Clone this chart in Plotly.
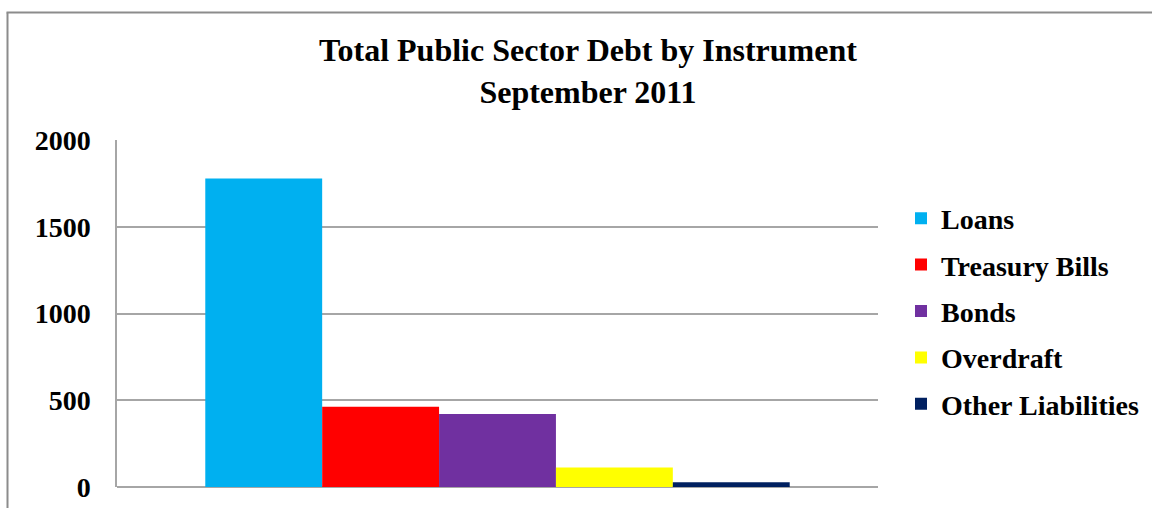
import plotly.graph_objects as go

series = ["Loans", "Treasury Bills", "Bonds", "Overdraft", "Other Liabilities"]
values = [1778, 463, 421, 113, 27]
colors = ["#00B0F0", "#FF0000", "#7030A0", "#FFFF00", "#002060"]
category = [""]

FONT = "Liberation Serif, Times New Roman, serif"

fig = go.Figure()
for name, v, c in zip(series, values, colors):
    fig.add_trace(go.Bar(
        x=category, y=[v], name=name, legendgroup=name,
        marker=dict(color=c, line=dict(width=0)),
    ))

W, H = 1152, 508
L, R, T, B = 117, 878, 140, 487

def px(x):
    return (x - L) / (R - L)

def py(y):
    return (B - y) / (B - T)

fig.update_layout(
    width=W, height=H,
    margin=dict(l=L, r=W - R, t=T, b=H - B, autoexpand=False),
    paper_bgcolor="white", plot_bgcolor="white",
    barmode="group", bargap=0.232, bargroupgap=0,
    title=dict(
        text="<b>Total Public Sector Debt by Instrument<br>September 2011</b>",
        x=(588) / W, xanchor="center", y=1 - 61 / H, yanchor="middle",
        font=dict(family=FONT, size=32, color="black"),
    ),
    font=dict(family=FONT, size=28, color="black"),
    legend=dict(
        x=px(901), xanchor="left", y=py(311), yanchor="middle",
        font=dict(family=FONT, size=28, color="black", weight="bold"),
        tracegroupgap=7, bgcolor="rgba(0,0,0,0)",
    ),
    xaxis=dict(showticklabels=False, showgrid=False, zeroline=False,
               showline=False, ticks="", automargin=False),
    yaxis=dict(range=[0, 2000], tickvals=[0, 500, 1000, 1500, 2000],
               showgrid=True, gridcolor="#A6A6A6", gridwidth=1.5,
               zeroline=True, zerolinecolor="#A6A6A6", zerolinewidth=1.5,
               showline=True, linecolor="#A6A6A6", linewidth=1.5,
               ticks="", ticklabelstandoff=19, automargin=False,
               tickfont=dict(family=FONT, size=28, color="black", weight="bold")),
    shapes=[
        dict(type="line", xref="paper", yref="paper",
             x0=px(7.5), x1=px(7.5), y0=py(600), y1=py(12.5),
             line=dict(color="#8C8C8C", width=2)),
        dict(type="line", xref="paper", yref="paper",
             x0=px(6.5), x1=px(1200), y0=py(12.5), y1=py(12.5),
             line=dict(color="#8C8C8C", width=2)),
    ],
)

fig.write_html("out.html")
